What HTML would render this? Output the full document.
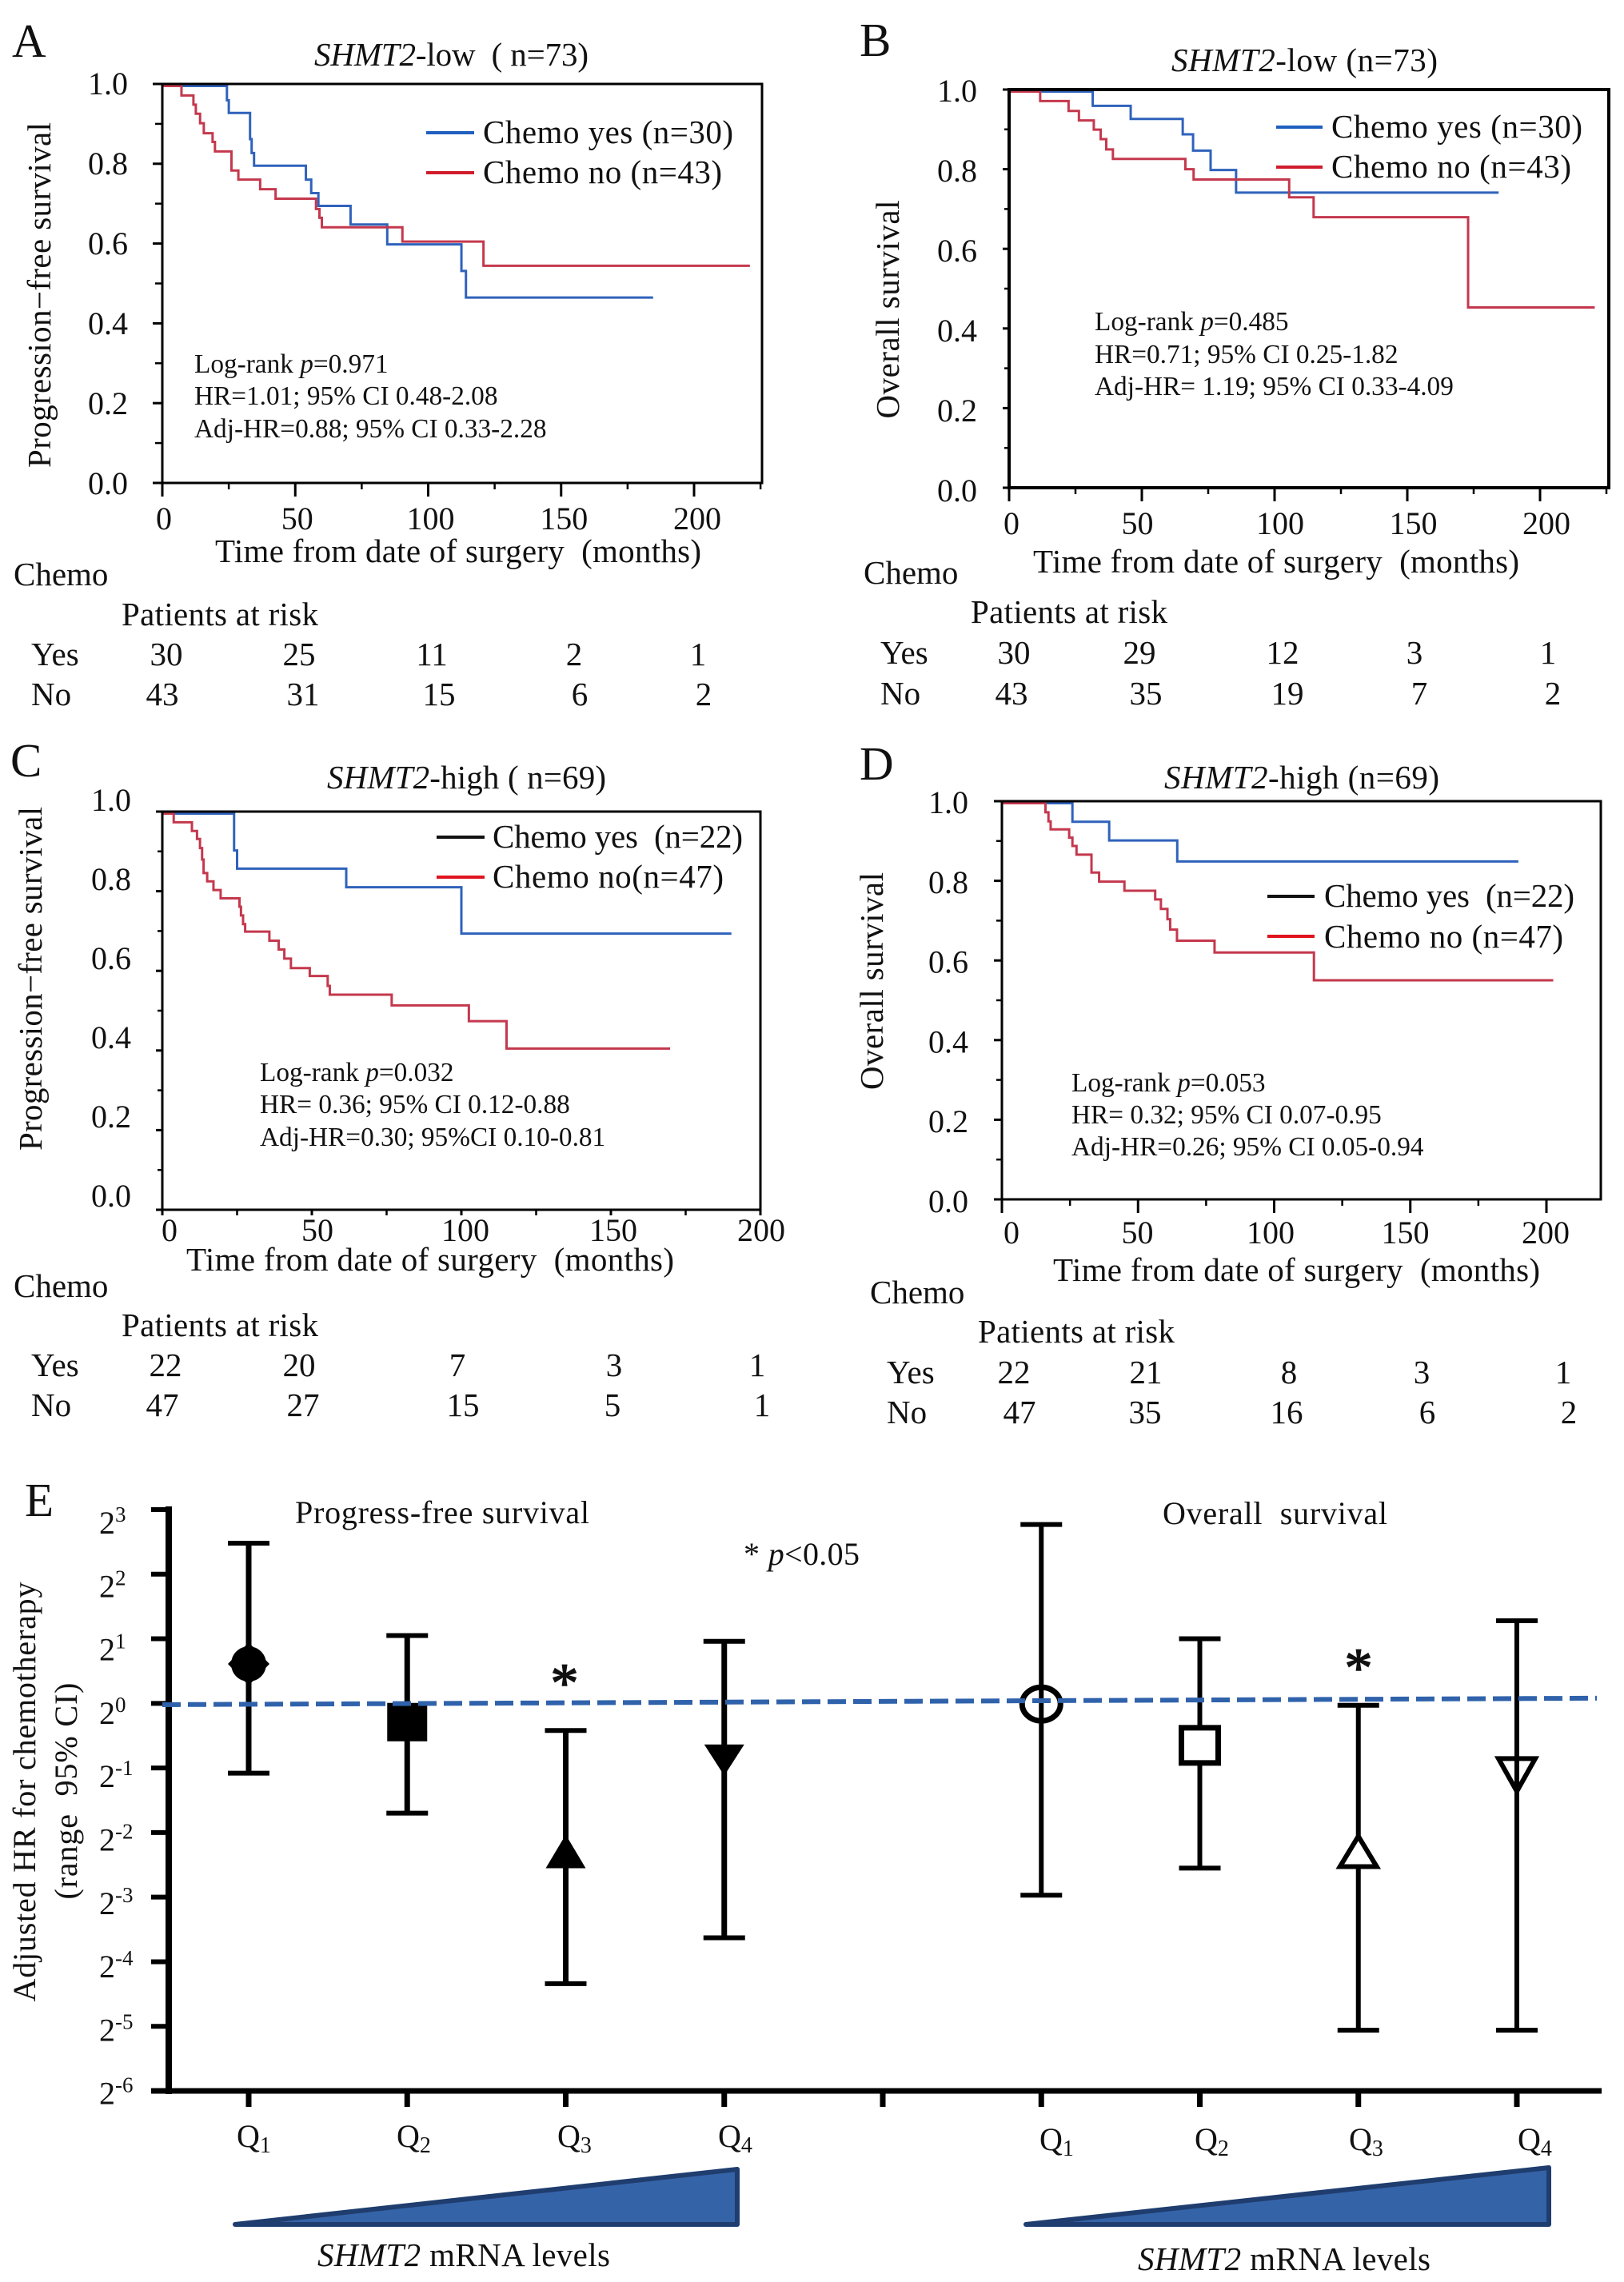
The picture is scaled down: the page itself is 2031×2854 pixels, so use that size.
<!DOCTYPE html>
<html lang="en">
<head>
<meta charset="utf-8">
<title>SHMT2 survival analysis figure</title>
<style>
html,body{margin:0;padding:0;background:#fff}
svg{display:block}
text{font-family:"Liberation Serif","Noto Serif CJK SC",serif;fill:#111;white-space:pre}
.f41{font-size:41px}
.f40{font-size:40px}
.f33{font-size:33.3px}
.f56{font-size:59px}
.mid{text-anchor:middle}
</style>
</head>
<body>
<svg id="figure" xmlns="http://www.w3.org/2000/svg" width="2031" height="2854" viewBox="0 0 2031 2854">
<rect x="0" y="0" width="2031" height="2854" fill="#fff"/>

<!-- Panel A -->
<g>
<text class="f56" x="15" y="71">A</text>
<text class="f41" x="393" y="82" textLength="343"><tspan font-style="italic">SHMT2</tspan>-low  ( n=73)</text>
<text class="f41 mid" transform="translate(63,369) rotate(-90)" textLength="432">Progression−free survival</text>
<text class="f41" x="269" y="703" textLength="608">Time from date of surgery  (months)</text>
<line x1="533" x2="593" y1="166" y2="166" stroke="#1f5fbf" stroke-width="4"/>
<line x1="533" x2="593" y1="216" y2="216" stroke="#d01c2c" stroke-width="4"/>
<text class="f41" x="604" y="179" textLength="313">Chemo yes (n=30)</text>
<text class="f41" x="604" y="229" textLength="299">Chemo no (n=43)</text>
<text class="f33" x="243" y="466">Log-rank <tspan font-style="italic">p</tspan>=0.971</text>
<text class="f33" x="243" y="506">HR=1.01; 95% CI 0.48-2.08</text>
<text class="f33" x="243" y="547">Adj-HR=0.88; 95% CI 0.33-2.28</text>
<text class="f41" x="17" y="732">Chemo</text>
<text class="f41" x="152" y="782" textLength="246">Patients at risk</text>
<text class="f41" x="39" y="832">Yes</text>
<text class="f41" x="39" y="882">No</text>
<g class="f41 mid">
<text x="208" y="832">30</text><text x="374" y="832">25</text><text x="540" y="832">11</text><text x="718" y="832">2</text><text x="873" y="832">1</text>
</g>
<g class="f41 mid">
<text x="203" y="882">43</text><text x="379" y="882">31</text><text x="549" y="882">15</text><text x="725" y="882">6</text><text x="880" y="882">2</text>
</g>
<g id="plot-a"></g>
</g>

<!-- Panel B -->
<g>
<text class="f56" x="1075" y="70">B</text>
<text class="f41" x="1465" y="89" textLength="333"><tspan font-style="italic">SHMT2</tspan>-low (n=73)</text>
<text class="f41 mid" transform="translate(1124,387) rotate(-90)" textLength="273">Overall survival</text>
<text class="f41" x="1292" y="716" textLength="608">Time from date of surgery  (months)</text>
<line x1="1596" x2="1654" y1="159" y2="159" stroke="#1f5fbf" stroke-width="4"/>
<line x1="1596" x2="1654" y1="209" y2="209" stroke="#d01c2c" stroke-width="4"/>
<text class="f41" x="1665" y="172" textLength="314">Chemo yes (n=30)</text>
<text class="f41" x="1665" y="222" textLength="300">Chemo no (n=43)</text>
<text class="f33" x="1369" y="413">Log-rank <tspan font-style="italic">p</tspan>=0.485</text>
<text class="f33" x="1369" y="454">HR=0.71; 95% CI 0.25-1.82</text>
<text class="f33" x="1369" y="494">Adj-HR= 1.19; 95% CI 0.33-4.09</text>
<text class="f41" x="1080" y="730">Chemo</text>
<text class="f41" x="1214" y="779" textLength="246">Patients at risk</text>
<text class="f41" x="1101" y="830">Yes</text>
<text class="f41" x="1101" y="881">No</text>
<g class="f41 mid">
<text x="1268" y="830">30</text><text x="1425" y="830">29</text><text x="1604" y="830">12</text><text x="1769" y="830">3</text><text x="1936" y="830">1</text>
</g>
<g class="f41 mid">
<text x="1265" y="881">43</text><text x="1433" y="881">35</text><text x="1610" y="881">19</text><text x="1775" y="881">7</text><text x="1942" y="881">2</text>
</g>
<g id="plot-b"></g>
</g>

<!-- Panel C -->
<g>
<text class="f56" x="13" y="971">C</text>
<text class="f41" x="409" y="986" textLength="349"><tspan font-style="italic">SHMT2</tspan>-high ( n=69)</text>
<text class="f41 mid" transform="translate(52,1224) rotate(-90)" textLength="430">Progression−free survival</text>
<text class="f41" x="233" y="1589" textLength="610">Time from date of surgery  (months)</text>
<line x1="546" x2="606" y1="1047" y2="1047" stroke="#111" stroke-width="4"/>
<line x1="546" x2="606" y1="1097" y2="1097" stroke="#e0141e" stroke-width="4"/>
<text class="f41" x="616" y="1060" textLength="313">Chemo yes  (n=22)</text>
<text class="f41" x="616" y="1110" textLength="289">Chemo no(n=47)</text>
<text class="f33" x="325" y="1352">Log-rank <tspan font-style="italic">p</tspan>=0.032</text>
<text class="f33" x="325" y="1392">HR= 0.36; 95% CI 0.12-0.88</text>
<text class="f33" x="325" y="1433">Adj-HR=0.30; 95%CI 0.10-0.81</text>
<text class="f41" x="17" y="1622">Chemo</text>
<text class="f41" x="152" y="1671" textLength="246">Patients at risk</text>
<text class="f41" x="39" y="1721">Yes</text>
<text class="f41" x="39" y="1771">No</text>
<g class="f41 mid">
<text x="207" y="1721">22</text><text x="374" y="1721">20</text><text x="572" y="1721">7</text><text x="768" y="1721">3</text><text x="947" y="1721">1</text>
</g>
<g class="f41 mid">
<text x="203" y="1771">47</text><text x="379" y="1771">27</text><text x="579" y="1771">15</text><text x="766" y="1771">5</text><text x="953" y="1771">1</text>
</g>
<g id="plot-c"></g>
</g>

<!-- Panel D -->
<g>
<text class="f56" x="1075" y="975">D</text>
<text class="f41" x="1456" y="986" textLength="344"><tspan font-style="italic">SHMT2</tspan>-high (n=69)</text>
<text class="f41 mid" transform="translate(1104,1227) rotate(-90)" textLength="272">Overall survival</text>
<text class="f41" x="1317" y="1602" textLength="609">Time from date of surgery  (months)</text>
<line x1="1585" x2="1644" y1="1121" y2="1121" stroke="#111" stroke-width="4"/>
<line x1="1585" x2="1644" y1="1171" y2="1171" stroke="#e0141e" stroke-width="4"/>
<text class="f41" x="1656" y="1134" textLength="313">Chemo yes  (n=22)</text>
<text class="f41" x="1656" y="1185" textLength="299">Chemo no (n=47)</text>
<text class="f33" x="1340" y="1365">Log-rank <tspan font-style="italic">p</tspan>=0.053</text>
<text class="f33" x="1340" y="1405">HR= 0.32; 95% CI 0.07-0.95</text>
<text class="f33" x="1340" y="1445">Adj-HR=0.26; 95% CI 0.05-0.94</text>
<text class="f41" x="1088" y="1630">Chemo</text>
<text class="f41" x="1223" y="1679" textLength="246">Patients at risk</text>
<text class="f41" x="1109" y="1730">Yes</text>
<text class="f41" x="1109" y="1780">No</text>
<g class="f41 mid">
<text x="1268" y="1730">22</text><text x="1433" y="1730">21</text><text x="1612" y="1730">8</text><text x="1778" y="1730">3</text><text x="1955" y="1730">1</text>
</g>
<g class="f41 mid">
<text x="1275" y="1780">47</text><text x="1432" y="1780">35</text><text x="1609" y="1780">16</text><text x="1785" y="1780">6</text><text x="1962" y="1780">2</text>
</g>
<g id="plot-d"></g>
</g>

<!-- Panel E -->
<g>
<text class="f56" x="31" y="1896">E</text>
<text class="f40" x="369" y="1905" textLength="368">Progress-free survival</text>
<text class="f40" x="1454" y="1906" textLength="281">Overall  survival</text>
<text class="f40" x="930" y="1957" textLength="145">* <tspan font-style="italic">p</tspan>&lt;0.05</text>
<text class="f40 mid" transform="translate(44,2241) rotate(-90)" textLength="525">Adjusted HR for chemotherapy</text>
<text class="f40 mid" transform="translate(96,2240) rotate(-90)" textLength="271">(range  95% CI)</text>
<text class="mid" font-size="70" stroke="#111" stroke-width="1.5" x="706" y="2128">*</text>
<text class="mid" font-size="70" stroke="#111" stroke-width="1.5" x="1699" y="2109">*</text>
<g class="f40">
<text x="296" y="2685">Q<tspan font-size="28" dy="7">1</tspan></text>
<text x="496" y="2685">Q<tspan font-size="28" dy="7">2</tspan></text>
<text x="697" y="2685">Q<tspan font-size="28" dy="7">3</tspan></text>
<text x="898" y="2685">Q<tspan font-size="28" dy="7">4</tspan></text>
</g>
<g class="f40">
<text x="1300" y="2689">Q<tspan font-size="28" dy="7">1</tspan></text>
<text x="1494" y="2689">Q<tspan font-size="28" dy="7">2</tspan></text>
<text x="1687" y="2689">Q<tspan font-size="28" dy="7">3</tspan></text>
<text x="1898" y="2689">Q<tspan font-size="28" dy="7">4</tspan></text>
</g>
<polygon points="294,2782 922,2713 922,2782" fill="#3563a8" stroke="#1f3d6e" stroke-width="6" stroke-linejoin="round"/>
<polygon points="1283,2782 1937,2711 1937,2782" fill="#3563a8" stroke="#1f3d6e" stroke-width="6" stroke-linejoin="round"/>
<text class="f41" x="397" y="2834" textLength="366"><tspan font-style="italic">SHMT2</tspan> mRNA levels</text>
<text class="f41" x="1423" y="2839" textLength="366"><tspan font-style="italic">SHMT2</tspan> mRNA levels</text>
<g id="plot-e"></g>
</g>
</svg>

<script>
// ---- Kaplan-Meier data: event times (months) and survival fractions ----
const kmTicksY = [0, 0.2, 0.4, 0.6, 0.8, 1];
const kmMinorY = [0.1, 0.3, 0.5, 0.7, 0.9];
const kmLabelsY = ['0.0', '0.2', '0.4', '0.6', '0.8', '1.0'];
const kmTicksX = [0, 50, 100, 150, 200];
const kmMinorXLong = [25, 75, 125, 175, 225];
const kmMinorXShort = [25, 75, 125, 175];

const aYesTimes = [0, 24.3, 25, 33, 33.6, 34.5, 54, 56, 58.7, 70.8, 84.6, 112.5, 114.2, 184.6];
const aYesSurv = [1, 0.964, 0.932, 0.866, 0.831, 0.799, 0.764, 0.73, 0.698, 0.651, 0.601, 0.534, 0.467, 0.467];
const aNoTimes = [0, 7.2, 11.7, 12.6, 14.2, 15.6, 18.9, 19.8, 26, 28.6, 36.8, 42.6, 57.8, 59.1, 60, 90.3, 120.8, 221];
const aNoSurv = [1, 0.976, 0.953, 0.93, 0.906, 0.881, 0.859, 0.835, 0.787, 0.764, 0.74, 0.716, 0.69, 0.668, 0.644, 0.608, 0.547, 0.547];

const bYesTimes = [0, 31.5, 45.8, 65.4, 69.3, 75.9, 85.5, 184.4];
const bYesSurv = [1, 0.964, 0.931, 0.892, 0.851, 0.802, 0.745, 0.745];
const bNoTimes = [0, 11.7, 22.4, 26.3, 31.9, 34.5, 36.6, 39.1, 66.4, 69.5, 105.5, 114.7, 172.9, 220.6];
const bNoSurv = [1, 0.976, 0.951, 0.927, 0.904, 0.88, 0.854, 0.83, 0.804, 0.778, 0.733, 0.683, 0.455, 0.455];

const cYesTimes = [0, 24, 25, 61.5, 100, 190.3];
const cYesSurv = [1, 0.907, 0.861, 0.814, 0.697, 0.697];
const cNoTimes = [0, 3.8, 9.9, 11.6, 12.6, 13.3, 13.8, 15, 17.1, 19.5, 25.8, 26.3, 27, 27.7, 35.8, 38.9, 40.8, 43, 49.3, 55.3, 56, 76.7, 102.5, 115.1, 169.8];
const cNoSurv = [1, 0.978, 0.956, 0.936, 0.913, 0.884, 0.85, 0.829, 0.807, 0.786, 0.765, 0.743, 0.721, 0.702, 0.679, 0.657, 0.634, 0.61, 0.59, 0.565, 0.543, 0.516, 0.476, 0.407, 0.407];

const dYesTimes = [0, 25.9, 39.4, 64.4, 189.7];
const dYesSurv = [1, 0.953, 0.906, 0.853, 0.853];
const dNoTimes = [0, 16, 17.1, 17.9, 24.7, 25.9, 27.4, 32.9, 35.7, 45, 56.3, 58.4, 60.8, 61.8, 64.3, 78.1, 114.6, 202.5];
const dNoSurv = [1, 0.977, 0.954, 0.934, 0.913, 0.892, 0.87, 0.825, 0.802, 0.779, 0.757, 0.733, 0.707, 0.681, 0.653, 0.623, 0.553, 0.553];

// ---- Forest-style HR data (log2 scale) ----
const eExponents = [3, 2, 1, 0, -1, -2, -3, -4, -5, -6];
const ePfsHigh = [2.48, 1.05, -0.42, 0.96];
const ePfsMid = [0.61, -0.29, -2.33, -0.86];
const ePfsLow = [-1.08, -1.7, -4.34, -3.63];
const eOsHigh = [2.77, 1.0, -0.03, 1.28];
const eOsMid = [-0.01, -0.65, -2.33, -1.04];
const eOsLow = [-2.97, -2.55, -5.06, -5.06];
const eRefLine = [-0.02, 0.08];
const eMarkerShapesPfs = ['filled-diamond-circle', 'filled-square', 'filled-triangle', 'filled-inverted-triangle'];
const eMarkerShapesOs = ['open-circle', 'open-square', 'open-triangle', 'open-inverted-triangle'];

const SVGNS = 'http://www.w3.org/2000/svg';
const BLUE = '#2f62bb';
const RED = '#c4384d';

function make(parent, tag, attrs, name) {
  const el = document.createElementNS(SVGNS, tag);
  for (const k in attrs) el.setAttribute(k, attrs[k]);
  
  
  parent.appendChild(el);
  return el;
}

function drawCurve(parent, times, surv, xs, ys, color, name) {
  let d = 'M' + xs(times[0]) + ' ' + ys(surv[0]);
  for (let i = 1; i < times.length; i++) {
    d += 'H' + xs(times[i]) + 'V' + ys(surv[i]);
  }
  make(parent, 'path', { d: d, fill: 'none', stroke: color, 'stroke-width': 3 }, name);
}

function drawKM(id, cfg, yesTimes, yesSurv, noTimes, noSurv, minorX) {
  const g = document.getElementById(id);
  const xs = m => cfg.left + m * cfg.pxPerMonth;
  const ys = s => cfg.bottom - s * (cfg.bottom - cfg.top);
  const curveY = s => cfg.bottom - s * (cfg.bottom - cfg.top - 2.5);
  const labelY = s => cfg.labelY0 + s * (cfg.labelY1 - cfg.labelY0);
  const labelX = m => cfg.labelX0 + m * cfg.labelPx + ((cfg.labelNudge || {})[m] || 0);

  drawCurve(g, yesTimes, yesSurv, xs, curveY, BLUE, 'curve-chemo-yes');
  drawCurve(g, noTimes, noSurv, xs, curveY, RED, 'curve-chemo-no');

  make(g, 'rect', { x: cfg.left, y: cfg.top, width: cfg.right - cfg.left, height: cfg.bottom - cfg.top, fill: 'none', stroke: '#000', 'stroke-width': cfg.frame }, 'plot-frame');

  kmTicksY.forEach((v, i) => {
    make(g, 'line', { x1: cfg.left - cfg.yLen, x2: cfg.left, y1: ys(v), y2: ys(v), stroke: '#000', 'stroke-width': 3 }, 'y-tick');
    const t = make(g, 'text', { x: cfg.labelRight, y: labelY(v), class: 'f40', 'text-anchor': 'end' }, 'y-tick-label');
    t.textContent = kmLabelsY[i];
  });
  kmMinorY.forEach(v => {
    make(g, 'line', { x1: cfg.left - cfg.yMinor, x2: cfg.left, y1: ys(v), y2: ys(v), stroke: '#000', 'stroke-width': 2.5 }, 'y-minor-tick');
  });
  kmTicksX.forEach(v => {
    make(g, 'line', { x1: xs(v), x2: xs(v), y1: cfg.bottom, y2: cfg.bottom + cfg.xLen, stroke: '#000', 'stroke-width': 3 }, 'x-tick');
    const t = make(g, 'text', { x: labelX(v), y: cfg.labelBase, class: 'f40 mid' }, 'x-tick-label');
    t.textContent = String(v);
  });
  minorX.forEach(v => {
    make(g, 'line', { x1: xs(v), x2: xs(v), y1: cfg.bottom, y2: cfg.bottom + cfg.xMinor, stroke: '#000', 'stroke-width': 2.5 }, 'x-minor-tick');
  });
}

drawKM('plot-a', { left: 203, right: 953, top: 105, bottom: 604, pxPerMonth: 3.325, yLen: 12, yMinor: 9, xLen: 17, xMinor: 8, labelRight: 160, labelY1: 118, labelY0: 618, labelX0: 205, labelPx: 3.335, labelBase: 662, frame: 3 }, aYesTimes, aYesSurv, aNoTimes, aNoSurv, kmMinorXLong);
drawKM('plot-b', { left: 1262, right: 2012, top: 112, bottom: 610, pxPerMonth: 3.32, yLen: 8, yMinor: 6, xLen: 17, xMinor: 8, labelRight: 1222, labelY1: 127, labelY0: 627, labelX0: 1265, labelPx: 3.33, labelBase: 668, frame: 4, labelNudge: { 50: -9, 100: 3, 150: 3, 200: 3 } }, bYesTimes, bYesSurv, bNoTimes, bNoSurv, kmMinorXLong);
drawKM('plot-c', { left: 203, right: 951, top: 1015, bottom: 1513, pxPerMonth: 3.74, yLen: 8, yMinor: 6, xLen: 7, xMinor: 7, labelRight: 164, labelY1: 1014, labelY0: 1509, labelX0: 212, labelPx: 3.7, labelBase: 1552, frame: 3 }, cYesTimes, cYesSurv, cNoTimes, cNoSurv, kmMinorXShort);
drawKM('plot-d', { left: 1253, right: 2002, top: 1002, bottom: 1500, pxPerMonth: 3.405, yLen: 10, yMinor: 7, xLen: 17, xMinor: 8, labelRight: 1211, labelY1: 1017, labelY0: 1516, labelX0: 1265, labelPx: 3.33, labelBase: 1555, frame: 3, labelNudge: { 50: -9, 100: -9, 150: -7, 200: 2 } }, dYesTimes, dYesSurv, dNoTimes, dNoSurv, kmMinorXShort);

// ---- Panel E ----
(function () {
  const g = document.getElementById('plot-e');
  const axisLeft = 211, axisRight = 2003, axisTop = 1888, axisBottom = 2615;
  const unit = (axisBottom - axisTop) / 9;
  const ey = v => axisTop + (3 - v) * unit;
  const labelBase = v => 1918 + (3 - v) * 79.3;
  const ex = i => 311 + i * 198.25;

  make(g, 'line', { x1: axisLeft, x2: axisLeft, y1: axisTop - 4, y2: axisBottom + 4, stroke: '#000', 'stroke-width': 8 }, 'y-axis');
  make(g, 'line', { x1: 189, x2: axisRight, y1: axisBottom, y2: axisBottom, stroke: '#000', 'stroke-width': 7 }, 'x-axis');

  eExponents.forEach(p => {
    make(g, 'line', { x1: 189, x2: axisLeft, y1: ey(p), y2: ey(p), stroke: '#000', 'stroke-width': 6 }, 'y-tick');
    const t = make(g, 'text', { x: 124, y: labelBase(p), class: 'f40' }, 'y-tick-label');
    t.textContent = '2';
    const sup = make(t, 'tspan', { 'font-size': 27, dy: -15 }, 'y-tick-exponent');
    sup.textContent = String(p);
  });

  for (let i = 0; i < 9; i++) {
    make(g, 'line', { x1: ex(i), x2: ex(i), y1: axisBottom, y2: axisBottom + 20, stroke: '#000', 'stroke-width': 7 }, 'x-tick');
  }

  function marker(shape, x, y, name) {
    const sw = 6;
    if (shape === 'filled-diamond-circle') {
      make(g, 'circle', { cx: x, cy: y, r: 22, fill: '#000' }, name);
      make(g, 'polygon', { points: [x, y - 27, x + 26, y, x, y + 27, x - 26, y].join(' '), fill: '#000' }, name + '-diamond');
    } else if (shape === 'filled-square') {
      make(g, 'rect', { x: x - 25, y: y - 24, width: 50, height: 48, fill: '#000' }, name);
    } else if (shape === 'filled-triangle') {
      make(g, 'polygon', { points: [x, y - 24, x + 25, y + 18, x - 25, y + 18].join(' '), fill: '#000' }, name);
    } else if (shape === 'filled-inverted-triangle') {
      make(g, 'polygon', { points: [x - 25, y - 18, x + 25, y - 18, x, y + 21].join(' '), fill: '#000' }, name);
    } else if (shape === 'open-circle') {
      make(g, 'ellipse', { cx: x, cy: y, rx: 24, ry: 21, fill: 'none', stroke: '#000', 'stroke-width': sw + 1 }, name);
    } else if (shape === 'open-square') {
      make(g, 'rect', { x: x - 23, y: y - 22, width: 46, height: 44, fill: '#fff', stroke: '#000', 'stroke-width': sw + 1 }, name);
    } else if (shape === 'open-triangle') {
      make(g, 'polygon', { points: [x, y - 22, x + 23, y + 16, x - 23, y + 16].join(' '), fill: '#fff', stroke: '#000', 'stroke-width': sw }, name);
    } else {
      make(g, 'polygon', { points: [x - 23, y - 15, x + 23, y - 15, x, y + 26].join(' '), fill: 'none', stroke: '#000', 'stroke-width': sw }, name);
    }
  }

  function series(high, mid, low, shapes, offset, prefix, barWidth) {
    high.forEach((h, i) => {
      const x = ex(i + offset);
      make(g, 'line', { x1: x, x2: x, y1: ey(h), y2: ey(low[i]), stroke: '#000', 'stroke-width': barWidth }, prefix + '-error-bar');
      make(g, 'line', { x1: x - 26, x2: x + 26, y1: ey(h), y2: ey(h), stroke: '#000', 'stroke-width': 6 }, prefix + '-upper-cap');
      make(g, 'line', { x1: x - 26, x2: x + 26, y1: ey(low[i]), y2: ey(low[i]), stroke: '#000', 'stroke-width': 6 }, prefix + '-lower-cap');
      marker(shapes[i], x, ey(mid[i]), prefix + '-marker');
    });
  }
  series(ePfsHigh, ePfsMid, ePfsLow, eMarkerShapesPfs, 0, 'pfs', 7);
  series(eOsHigh, eOsMid, eOsLow, eMarkerShapesOs, 5, 'os', 6);

  make(g, 'line', { x1: 203, x2: 1997, y1: ey(eRefLine[0]), y2: ey(eRefLine[1]), stroke: '#2f62ab', 'stroke-width': 6, 'stroke-dasharray': '23 9' }, 'reference-line');
})();
</script>
</body>
</html>
